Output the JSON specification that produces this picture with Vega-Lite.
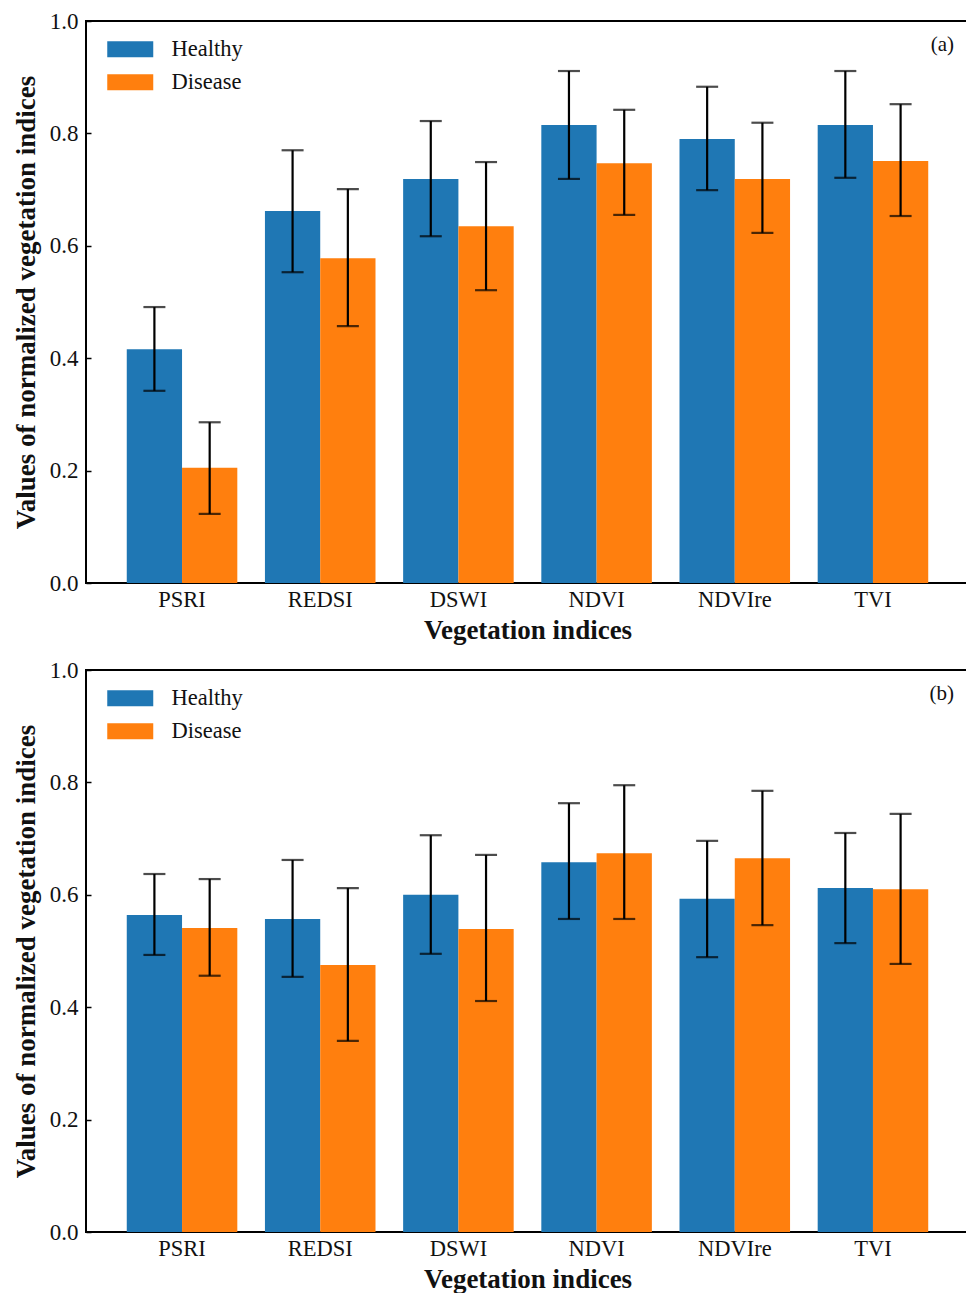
{
  "$schema": "https://vega.github.io/schema/vega-lite/v6.json",
  "padding": {"left": 11, "top": 9, "right": 0, "bottom": 0},
  "background": "white",
  "datasets": {
    "vals": [
      {"panel": "a", "index": "PSRI", "group": "Healthy", "value": 0.416, "lo": 0.342, "hi": 0.491},
      {"panel": "a", "index": "PSRI", "group": "Disease", "value": 0.205, "lo": 0.123, "hi": 0.286},
      {"panel": "a", "index": "REDSI", "group": "Healthy", "value": 0.662, "lo": 0.553, "hi": 0.770},
      {"panel": "a", "index": "REDSI", "group": "Disease", "value": 0.578, "lo": 0.457, "hi": 0.701},
      {"panel": "a", "index": "DSWI", "group": "Healthy", "value": 0.719, "lo": 0.617, "hi": 0.822},
      {"panel": "a", "index": "DSWI", "group": "Disease", "value": 0.635, "lo": 0.521, "hi": 0.749},
      {"panel": "a", "index": "NDVI", "group": "Healthy", "value": 0.815, "lo": 0.719, "hi": 0.911},
      {"panel": "a", "index": "NDVI", "group": "Disease", "value": 0.747, "lo": 0.655, "hi": 0.842},
      {"panel": "a", "index": "NDVIre", "group": "Healthy", "value": 0.790, "lo": 0.699, "hi": 0.883},
      {"panel": "a", "index": "NDVIre", "group": "Disease", "value": 0.719, "lo": 0.623, "hi": 0.819},
      {"panel": "a", "index": "TVI", "group": "Healthy", "value": 0.815, "lo": 0.721, "hi": 0.911},
      {"panel": "a", "index": "TVI", "group": "Disease", "value": 0.751, "lo": 0.653, "hi": 0.852},
      {"panel": "b", "index": "PSRI", "group": "Healthy", "value": 0.564, "lo": 0.493, "hi": 0.637},
      {"panel": "b", "index": "PSRI", "group": "Disease", "value": 0.541, "lo": 0.456, "hi": 0.628},
      {"panel": "b", "index": "REDSI", "group": "Healthy", "value": 0.557, "lo": 0.454, "hi": 0.662},
      {"panel": "b", "index": "REDSI", "group": "Disease", "value": 0.475, "lo": 0.340, "hi": 0.612},
      {"panel": "b", "index": "DSWI", "group": "Healthy", "value": 0.600, "lo": 0.495, "hi": 0.706},
      {"panel": "b", "index": "DSWI", "group": "Disease", "value": 0.539, "lo": 0.411, "hi": 0.671},
      {"panel": "b", "index": "NDVI", "group": "Healthy", "value": 0.658, "lo": 0.557, "hi": 0.763},
      {"panel": "b", "index": "NDVI", "group": "Disease", "value": 0.674, "lo": 0.557, "hi": 0.795},
      {"panel": "b", "index": "NDVIre", "group": "Healthy", "value": 0.593, "lo": 0.489, "hi": 0.696},
      {"panel": "b", "index": "NDVIre", "group": "Disease", "value": 0.665, "lo": 0.546, "hi": 0.785},
      {"panel": "b", "index": "TVI", "group": "Healthy", "value": 0.612, "lo": 0.514, "hi": 0.710},
      {"panel": "b", "index": "TVI", "group": "Disease", "value": 0.610, "lo": 0.477, "hi": 0.744}
    ]
  },
  "config": {
    "font": "Liberation Serif",
    "view": {"stroke": "black", "strokeWidth": 2},
    "axis": {"grid": false, "labelFont": "Liberation Serif", "titleFont": "Liberation Serif", "labelColor": "#111", "titleColor": "#111"},
    "legend": {"labelFont": "Liberation Serif"}
  },
  "bounds": "flush",
  "spacing": 87,
  "resolve": {"legend": {"color": "independent"}, "scale": {"color": "independent"}},
  "vconcat": [
    {
      "width": 883,
      "height": 562,
      "title": {"text": "(a)", "anchor": "end", "frame": "group", "offset": -30, "dx": -15, "dy": 32, "baseline": "alphabetic", "fontSize": 21, "fontWeight": "normal", "font": "Liberation Serif", "color": "#111"},
      "data": {"name": "vals"},
      "transform": [{"filter": "datum.panel === 'a'"}],
      "encoding": {
        "x": {"field": "index", "type": "nominal", "sort": null,
          "scale": {"paddingInner": 0.2, "paddingOuter": 0.295},
          "axis": {"title": "Vegetation indices", "labelAngle": 0, "labelFontSize": 22.5, "labelPadding": 5, "ticks": false, "domain": false, "titleFontSize": 27, "titleFontWeight": "bold", "titlePadding": 7}},
        "xOffset": {"field": "group", "type": "nominal", "sort": ["Healthy", "Disease"], "scale": {"paddingInner": 0, "paddingOuter": 0}}
      },
      "layer": [
        {
          "mark": {"type": "bar"},
          "encoding": {
            "y": {"field": "value", "type": "quantitative", "scale": {"domain": [0, 1]},
              "axis": {"title": "Values of normalized vegetation indices", "values": [0, 0.2, 0.4, 0.6, 0.8, 1.0], "format": ".1f", "labelFontSize": 23, "tickSize": -5, "tickWidth": 1.5, "tickColor": "black", "labelPadding": 13, "domain": false, "titleFontSize": 27, "titleFontWeight": "bold", "titlePadding": 9}},
            "color": {"field": "group", "type": "nominal", "sort": ["Healthy", "Disease"],
              "scale": {"domain": ["Healthy", "Disease"], "range": ["#1f77b4", "#ff7f0e"]},
              "legend": {"title": null, "orient": "none", "legendX": 33, "legendY": 17, "padding": 0, "labelFontSize": 22.5, "labelColor": "#111", "symbolType": "M-2.3,-0.8L2.3,-0.8L2.3,0.8L-2.3,0.8Z", "symbolSize": 400, "symbolStrokeWidth": 0, "labelOffset": 30, "rowPadding": 10}}
          }
        },
        {
          "mark": {"type": "rule", "color": "black", "strokeWidth": 2.2},
          "encoding": {"y": {"field": "lo", "type": "quantitative"}, "y2": {"field": "hi"}}
        },
        {
          "mark": {"type": "tick", "color": "black", "size": 22, "thickness": 2.2},
          "encoding": {"y": {"field": "lo", "type": "quantitative"}}
        },
        {
          "mark": {"type": "tick", "color": "black", "size": 22, "thickness": 2.2},
          "encoding": {"y": {"field": "hi", "type": "quantitative"}}
        }
      ]
    },
    {
      "width": 883,
      "height": 562,
      "title": {"text": "(b)", "anchor": "end", "frame": "group", "offset": -30, "dx": -15, "dy": 32, "baseline": "alphabetic", "fontSize": 21, "fontWeight": "normal", "font": "Liberation Serif", "color": "#111"},
      "data": {"name": "vals"},
      "transform": [{"filter": "datum.panel === 'b'"}],
      "encoding": {
        "x": {"field": "index", "type": "nominal", "sort": null,
          "scale": {"paddingInner": 0.2, "paddingOuter": 0.295},
          "axis": {"title": "Vegetation indices", "labelAngle": 0, "labelFontSize": 22.5, "labelPadding": 5, "ticks": false, "domain": false, "titleFontSize": 27, "titleFontWeight": "bold", "titlePadding": 7}},
        "xOffset": {"field": "group", "type": "nominal", "sort": ["Healthy", "Disease"], "scale": {"paddingInner": 0, "paddingOuter": 0}}
      },
      "layer": [
        {
          "mark": {"type": "bar"},
          "encoding": {
            "y": {"field": "value", "type": "quantitative", "scale": {"domain": [0, 1]},
              "axis": {"title": "Values of normalized vegetation indices", "values": [0, 0.2, 0.4, 0.6, 0.8, 1.0], "format": ".1f", "labelFontSize": 23, "tickSize": -5, "tickWidth": 1.5, "tickColor": "black", "labelPadding": 13, "domain": false, "titleFontSize": 27, "titleFontWeight": "bold", "titlePadding": 9}},
            "color": {"field": "group", "type": "nominal", "sort": ["Healthy", "Disease"],
              "scale": {"domain": ["Healthy", "Disease"], "range": ["#1f77b4", "#ff7f0e"]},
              "legend": {"title": null, "orient": "none", "legendX": 33, "legendY": 17, "padding": 0, "labelFontSize": 22.5, "labelColor": "#111", "symbolType": "M-2.3,-0.8L2.3,-0.8L2.3,0.8L-2.3,0.8Z", "symbolSize": 400, "symbolStrokeWidth": 0, "labelOffset": 30, "rowPadding": 10}}
          }
        },
        {
          "mark": {"type": "rule", "color": "black", "strokeWidth": 2.2},
          "encoding": {"y": {"field": "lo", "type": "quantitative"}, "y2": {"field": "hi"}}
        },
        {
          "mark": {"type": "tick", "color": "black", "size": 22, "thickness": 2.2},
          "encoding": {"y": {"field": "lo", "type": "quantitative"}}
        },
        {
          "mark": {"type": "tick", "color": "black", "size": 22, "thickness": 2.2},
          "encoding": {"y": {"field": "hi", "type": "quantitative"}}
        }
      ]
    }
  ]
}
